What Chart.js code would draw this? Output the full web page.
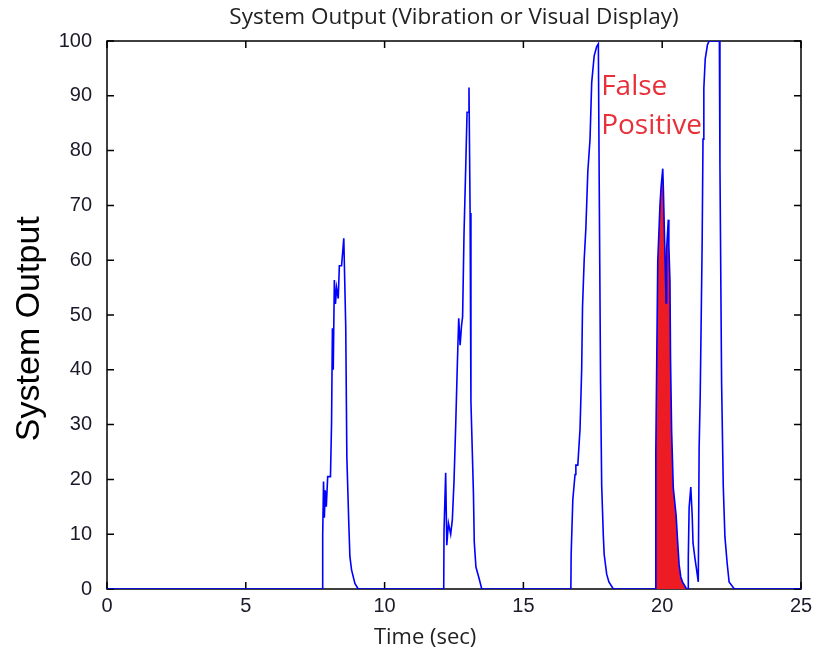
<!DOCTYPE html>
<html>
<head>
<meta charset="utf-8">
<script src="https://cdn.jsdelivr.net/npm/chart.js@4"></script>
<style>
  html, body { margin: 0; padding: 0; background: #fff; }
  #wrap { width: 815px; height: 657px; }
</style>
</head>
<body>
<div id="wrap"><canvas id="chart" width="815" height="657"></canvas></div>
<script>
// данные
const timeSec = [
    0, 7.76, 7.77, 7.8, 7.83, 7.86, 7.9, 7.95, 8.05, 8.09, 8.12, 8.15, 8.19, 8.23, 8.27, 8.33, 8.37, 8.45, 8.53,
    8.6, 8.64, 8.71, 8.75, 8.81, 8.93, 9.05,
    12.13, 12.14, 12.2, 12.24, 12.3, 12.38, 12.44, 12.5, 12.56, 12.62, 12.67, 12.72, 12.77, 12.81, 12.86,
    12.93, 12.97, 13.02, 13.04, 13.08, 13.11, 13.2, 13.23, 13.29, 13.4, 13.5,
    16.71, 16.72, 16.78, 16.86, 16.89, 16.96, 17.04, 17.1, 17.13, 17.19, 17.25, 17.32, 17.4, 17.46, 17.55,
    17.64, 17.7, 17.73, 17.78, 17.82, 17.88, 17.91, 18.0, 18.08, 18.24,
    19.76, 19.77, 19.84, 19.92, 19.96, 20.02, 20.04, 20.1, 20.14, 20.16, 20.22, 20.24, 20.28, 20.3, 20.34,
    20.4, 20.5, 20.56, 20.61, 20.67, 20.73, 20.88,
    20.93, 20.94, 20.97, 21.03, 21.08, 21.11, 21.18, 21.24, 21.3, 21.33, 21.37, 21.4, 21.44, 21.47, 21.5,
    21.55, 21.63, 21.69, 22.06, 22.08, 22.14, 22.2, 22.26, 22.34, 22.41, 22.6, 25
];
const systemOutput = [
    0, 0, 9.7, 19.6, 13, 18, 15, 20.5, 20.5, 30.5, 47.6, 40, 56.4, 52, 55, 53, 59, 59, 64,
    47.9, 24.1, 12, 5.9, 3.5, 1, 0,
    0, 10.5, 21.2, 8, 12, 10, 12.6, 19.6, 29.6, 40.9, 49.4, 44.5, 48, 49.7, 64.6,
    78.5, 87, 87, 91.5, 68.6, 34.2, 17.5, 8.6, 4, 2, 0,
    0, 6.3, 16.3, 20.9, 22.6, 22.6, 29.2, 40.2, 51.5, 60.1, 65.8, 76.1, 82.1, 92.4, 97.3,
    99, 99.5, 74.8, 37.5, 18.9, 9.6, 6.3, 2.7, 1.3, 0,
    0, 25, 59.8, 70.1, 73.4, 76.7, 73.4, 60.8, 52.2, 62.1, 67.4, 62.5, 56.1, 42, 28.7,
    18.4, 13.5, 8.4, 4.4, 2.2, 1.3, 0,
    0, 5.6, 14.8, 18.6, 13.5, 8.4, 5.6, 3.5, 1.3, 25.7, 35.5, 47.5, 63.5, 82.1, 91.4,
    96.7, 99.3, 100, 100, 77.4, 37.5, 18.7, 9.5, 4.7, 1.3, 0, 0
];
// участок ложного срабатывания (закрашен красным)
const falsePositiveRange = [19.76, 20.88];
const xTicks = [0, 5, 10, 15, 20, 25];
const yTicks = [0, 10, 20, 30, 40, 50, 60, 70, 80, 90, 100];
const noteLines = ['False', 'Positive'];
const notePos = [[17.8, 90.1], [17.8, 83.1]];
const xTitle = 'Time (sec)';
const yTitle = 'System Output';

const points = timeSec.map((t, i) => ({ x: t, y: systemOutput[i] }));
const fpPoints = points.filter(p => p.x >= falsePositiveRange[0] && p.x <= falsePositiveRange[1]);

// рамка и внутренние штрихи (под линией, как в оригинале)
const framePlugin = {
    id: 'frame',
    beforeDatasetsDraw(chart) {
        const { ctx, chartArea: a, scales: { x, y } } = chart;
        ctx.save();
        ctx.strokeStyle = '#000';
        ctx.lineWidth = 1.5;
        ctx.strokeRect(a.left, a.top, a.right - a.left, a.bottom - a.top);
        ctx.beginPath();
        xTicks.forEach(v => {
            const px = x.getPixelForValue(v);
            ctx.moveTo(px, a.bottom); ctx.lineTo(px, a.bottom - 7);
            ctx.moveTo(px, a.top); ctx.lineTo(px, a.top + 7);
        });
        yTicks.forEach(v => {
            const py = y.getPixelForValue(v);
            ctx.moveTo(a.left, py); ctx.lineTo(a.left + 7, py);
            ctx.moveTo(a.right, py); ctx.lineTo(a.right - 7, py);
        });
        ctx.stroke();
        ctx.restore();
    },
    // подписи осей (в оригинале сдвинуты от центра) и надпись
    afterDatasetsDraw(chart) {
        const { ctx, scales: { x, y } } = chart;
        ctx.save();
        ctx.fillStyle = '#222';
        ctx.textAlign = 'center';
        ctx.textBaseline = 'middle';
        ctx.font = '22px "Open Sans"';
        ctx.fillText(xTitle, x.getPixelForValue(11.46), chart.height - 19);

        ctx.save();
        ctx.fillStyle = '#000';
        ctx.font = '34px "Liberation Sans", Arial';
        ctx.translate(30, y.getPixelForValue(47.5));
        ctx.rotate(-Math.PI / 2);
        ctx.fillText(yTitle, 0, 0);
        ctx.restore();

        ctx.fillStyle = '#e8303a';
        ctx.font = '28px "Open Sans"';
        ctx.textBaseline = 'alphabetic';
        ctx.textAlign = 'left';
        noteLines.forEach((txt, i) => {
            ctx.fillText(txt, x.getPixelForValue(notePos[i][0]), y.getPixelForValue(notePos[i][1]));
        });
        ctx.restore();
    }
};

const ctx = document.getElementById('chart').getContext('2d');
new Chart(ctx, {
    type: 'line',
    data: {
        datasets: [{
            data: points,
            borderColor: '#0000ff',
            borderWidth: 1.6,
            pointRadius: 0,
            tension: 0,
            fill: false
        }, {
            data: fpPoints,
            borderWidth: 0,
            borderColor: 'rgba(0,0,0,0)',
            backgroundColor: '#ed1c24',
            pointRadius: 0,
            tension: 0,
            fill: 'origin'
        }]
    },
    options: {
        responsive: false,
        animation: false,
        layout: { padding: { left: 0, right: 14, top: 0, bottom: 0 } },
        plugins: {
            legend: { display: false },
            tooltip: { enabled: false },
            title: {
                display: true,
                fullSize: false,
                text: 'System Output (Vibration or Visual Display)',
                color: '#222',
                font: { family: '"Open Sans"', size: 22.5, weight: 'normal' },
                padding: { top: 4.5, bottom: 9.5 }
            }
        },
        scales: {
            x: {
                type: 'linear',
                min: 0,
                max: 25,
                afterBuildTicks: s => { s.ticks = xTicks.map(v => ({ value: v })); },
                afterFit: s => { s.height = 68; s.paddingLeft = 0; s.paddingRight = 0; },
                grid: { display: false },
                border: { display: false },
                ticks: {
                    color: '#1a1a2a',
                    font: { family: '"Liberation Sans", Arial', size: 20 },
                    padding: -3,
                    maxRotation: 0
                }
            },
            y: {
                min: 0,
                max: 100,
                afterBuildTicks: s => { s.ticks = yTicks.map(v => ({ value: v })); },
                afterFit: s => { s.width = 107; },
                grid: { display: false },
                border: { display: false },
                ticks: {
                    color: '#1a1a2a',
                    font: { family: '"Liberation Sans", Arial', size: 20 },
                    padding: 7
                }
            }
        }
    },
    plugins: [framePlugin]
});
</script>
</body>
</html>
